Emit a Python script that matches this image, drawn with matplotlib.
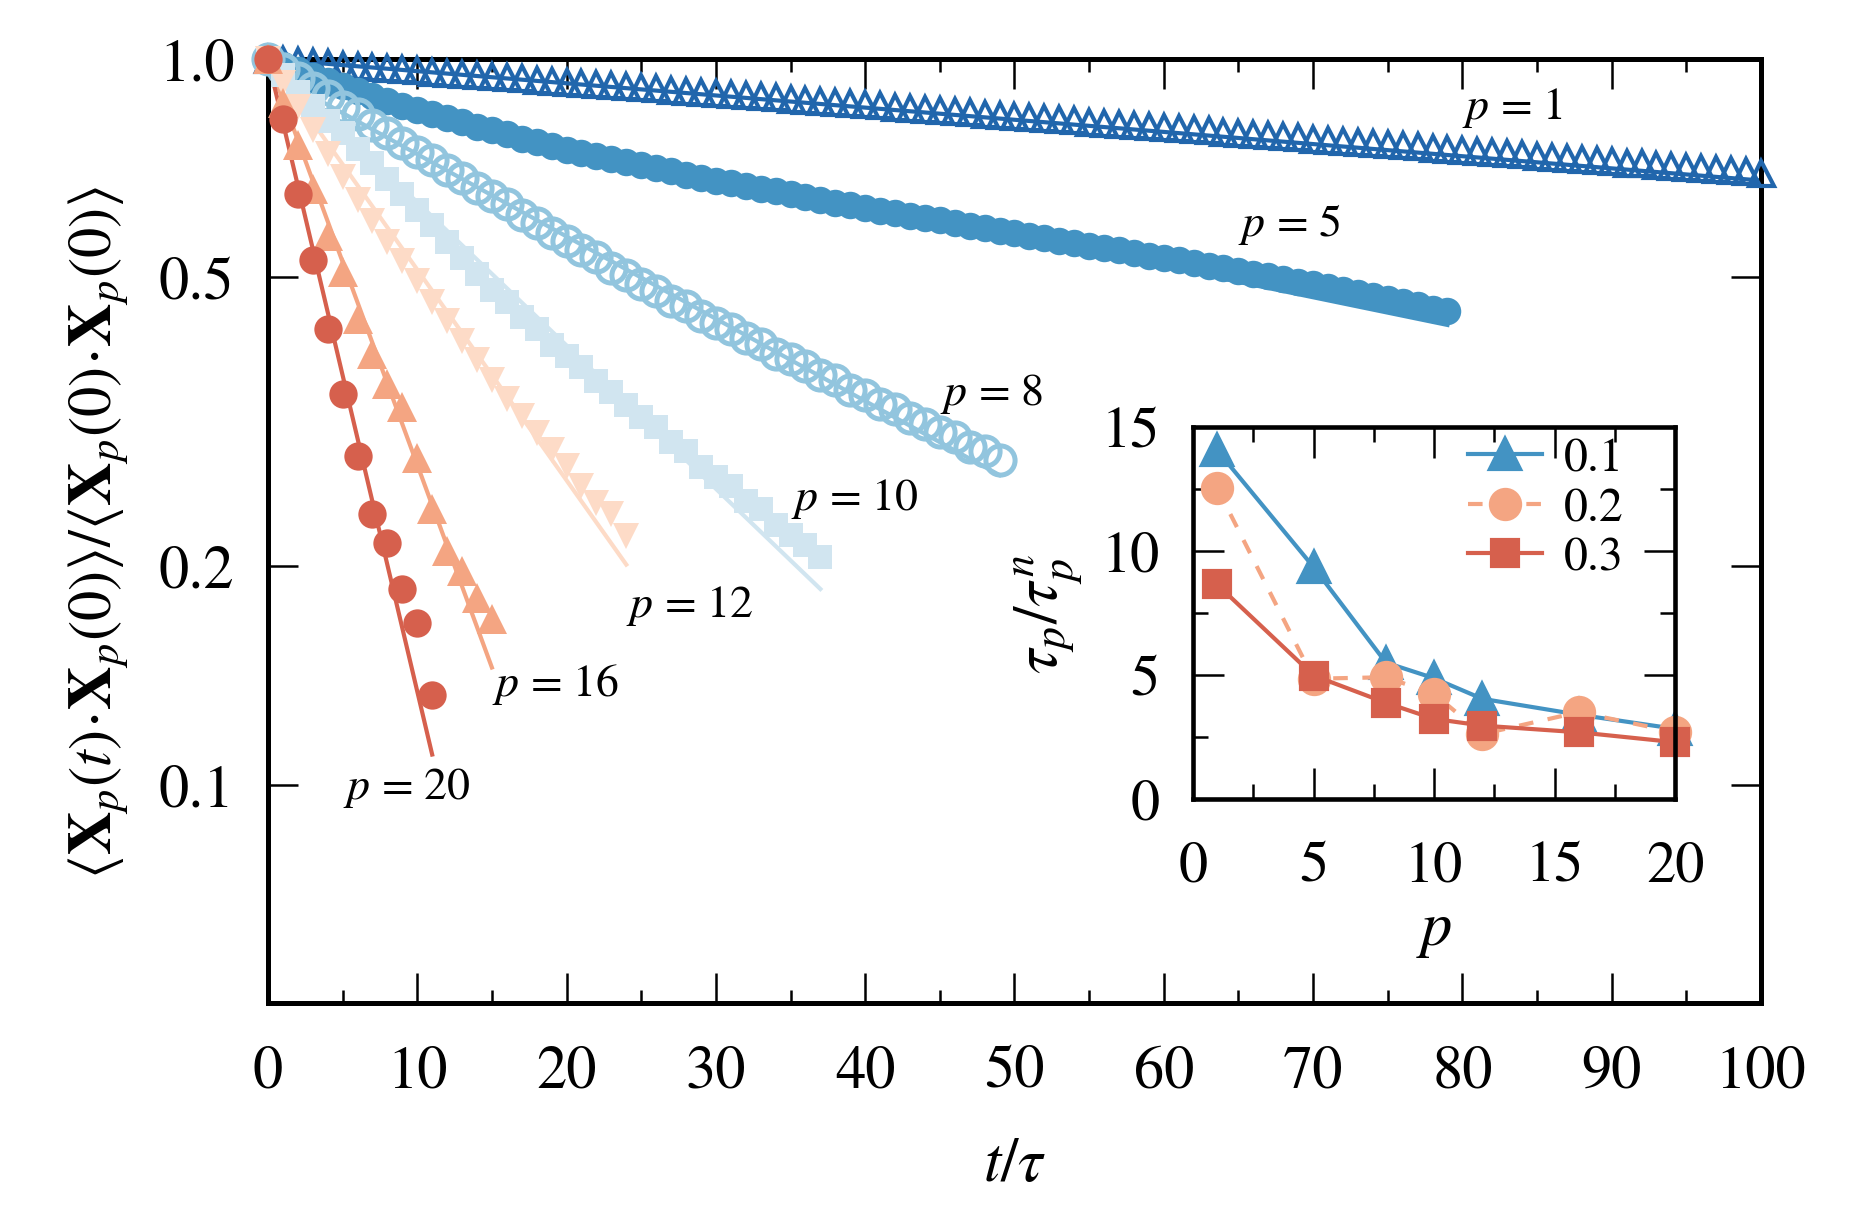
import numpy as np
import matplotlib
matplotlib.use("Agg")
import matplotlib.pyplot as plt

plt.rcParams['font.family'] = ['STIXGeneral', 'DejaVu Serif']
plt.rcParams['mathtext.fontset'] = 'stix'

####################################
# data: main panel (t/tau = 0,1,2,...)
####################################
c_p1 = [1.000, 0.996, 0.993, 0.989, 0.986, 0.982, 0.979, 0.975, 0.972, 0.968,
        0.965, 0.961, 0.958, 0.954, 0.951, 0.947, 0.944, 0.941, 0.937, 0.934,
        0.930, 0.927, 0.924, 0.921, 0.917, 0.914, 0.911, 0.907, 0.904, 0.901,
        0.898, 0.895, 0.891, 0.888, 0.885, 0.882, 0.879, 0.875, 0.872, 0.869,
        0.866, 0.863, 0.860, 0.857, 0.854, 0.851, 0.847, 0.844, 0.841, 0.838,
        0.835, 0.832, 0.829, 0.826, 0.823, 0.820, 0.817, 0.814, 0.812, 0.809,
        0.806, 0.803, 0.800, 0.797, 0.794, 0.791, 0.788, 0.786, 0.783, 0.780,
        0.777, 0.774, 0.771, 0.769, 0.766, 0.763, 0.760, 0.758, 0.755, 0.752,
        0.749, 0.747, 0.744, 0.741, 0.739, 0.736, 0.733, 0.731, 0.728, 0.725,
        0.723, 0.720, 0.718, 0.715, 0.712, 0.710, 0.707, 0.705, 0.702, 0.700,
        0.697]
c_p5 = [1.000, 0.982, 0.965, 0.948, 0.932, 0.917, 0.902, 0.888, 0.875, 0.862,
        0.850, 0.839, 0.828, 0.818, 0.807, 0.797, 0.787, 0.777, 0.768, 0.759,
        0.750, 0.742, 0.735, 0.728, 0.721, 0.714, 0.707, 0.700, 0.693, 0.686,
        0.680, 0.674, 0.668, 0.663, 0.657, 0.651, 0.646, 0.640, 0.634, 0.629,
        0.623, 0.618, 0.613, 0.608, 0.604, 0.599, 0.594, 0.589, 0.584, 0.580,
        0.575, 0.571, 0.566, 0.562, 0.558, 0.553, 0.549, 0.545, 0.541, 0.536,
        0.532, 0.528, 0.523, 0.519, 0.515, 0.510, 0.506, 0.502, 0.497, 0.493,
        0.489, 0.485, 0.480, 0.476, 0.471, 0.467, 0.462, 0.458, 0.453, 0.449]
c_p8 = [1.000, 0.970, 0.942, 0.913, 0.890, 0.860, 0.840, 0.812, 0.791, 0.765,
        0.745, 0.726, 0.703, 0.686, 0.665, 0.648, 0.631, 0.610, 0.595, 0.575,
        0.561, 0.545, 0.533, 0.515, 0.504, 0.489, 0.479, 0.464, 0.456, 0.442,
        0.433, 0.424, 0.412, 0.405, 0.392, 0.386, 0.377, 0.367, 0.361, 0.350,
        0.344, 0.335, 0.329, 0.320, 0.314, 0.306, 0.301, 0.292, 0.288, 0.280]
c_p10 = [1.000, 0.950, 0.900, 0.862, 0.822, 0.790, 0.752, 0.718, 0.684, 0.652,
         0.620, 0.590, 0.560, 0.532, 0.505, 0.480, 0.462, 0.441, 0.425, 0.404,
         0.390, 0.376, 0.360, 0.348, 0.333, 0.321, 0.311, 0.297, 0.288, 0.274,
         0.265, 0.258, 0.246, 0.240, 0.228, 0.221, 0.214, 0.206]
c_p12 = [1.000, 0.928, 0.860, 0.797, 0.740, 0.688, 0.640, 0.598, 0.560, 0.526,
         0.495, 0.463, 0.435, 0.409, 0.385, 0.361, 0.340, 0.322, 0.305, 0.289,
         0.275, 0.258, 0.244, 0.236, 0.220]
c_p16 = [1.000, 0.870, 0.760, 0.662, 0.571, 0.509, 0.438, 0.392, 0.356, 0.331,
         0.282, 0.240, 0.210, 0.197, 0.181, 0.169]
c_p20 = [1.000, 0.827, 0.652, 0.528, 0.425, 0.345, 0.284, 0.236, 0.215, 0.186,
         0.167, 0.133]

# fitted exponentials: (t_start, t_end), (value_start, value_end)
fit_t = {1: (0, 100), 5: (0, 79), 8: (0, 49), 10: (0, 37), 12: (0, 24), 16: (0, 15), 20: (0, 11)}
fit_v = {1: (1.0, 0.68), 5: (0.93, 0.43), 8: (0.96, 0.267), 10: (1.0, 0.186),
         12: (1.0, 0.201), 16: (1.0, 0.145), 20: (1.0, 0.11)}

modes = [1, 5, 8, 10, 12, 16, 20]
series = [c_p1, c_p5, c_p8, c_p10, c_p12, c_p16, c_p20]
colors = ['#2166ac', '#4393c3', '#92c5de', '#d1e5f0', '#fddbc7', '#f4a582', '#d6604d']
label_pos = [(80, 0.86), (65, 0.593), (45, 0.346), (35, 0.248), (24, 0.177), (15, 0.138), (5, 0.0993)]

####################################
# data: inset tau_p / tau_p^n
####################################
p_inset = [1, 5, 8, 10, 12, 16, 20]
ratio_01 = [14.06, 9.35, 5.5, 4.87, 4.04, 3.4, 2.83]
ratio_02 = [12.54, 4.85, 4.91, 4.24, 2.62, 3.5, 2.7]
ratio_03 = [8.65, 4.98, 3.88, 3.23, 2.96, 2.69, 2.29]
inset_labels = ['0.1', '0.2', '0.3']

####################################
# figure
####################################
fig = plt.figure(figsize=(6.25, 4.0233), dpi=300)
ax = fig.add_axes([0.1429, 0.1682, 0.7963, 0.7821])

# marker styles per mode
mstyle = {
    1: dict(marker='^', ms=6.0, mfc='none', mew=1.0),
    5: dict(marker='o', ms=6.6, mew=0),
    8: dict(marker='o', ms=7.0, mfc='none', mew=1.2),
    10: dict(marker='s', ms=5.6, mew=0),
    12: dict(marker='v', ms=6.4, mew=0),
    16: dict(marker='^', ms=7.0, mew=0),
    20: dict(marker='o', ms=6.8, mew=0),
}

for p, c, col in zip(modes, series, colors):
    t = np.arange(len(c))
    ax.plot(fit_t[p], fit_v[p], '-', color=col, lw=1.0, zorder=2)
    ax.plot(t, c, ls='none', color=col, mec=col, clip_on=False, zorder=3, **mstyle[p])

for p, (tx, ty) in zip(modes, label_pos):
    ax.text(tx, ty, r'$p$ = %d' % p, fontsize=11, ha='left', va='center')

ax.set_yscale('log')
ax.set_xlim(0, 100)
ax.set_ylim(0.05, 1.0)
ax.set_yticks([0.1, 0.2, 0.5, 1.0])
ax.set_yticklabels(['0.1', '0.2', '0.5', '1.0'])
ax.yaxis.set_minor_locator(matplotlib.ticker.NullLocator())
ax.set_xticks(np.arange(0, 101, 10))
ax.set_xticks(np.arange(0, 101, 5), minor=True)
ax.tick_params(which='both', direction='in', top=True, right=True, labelsize=14.5, width=0.6)
ax.tick_params(which='major', length=7.2)
ax.tick_params(which='minor', length=3.2)
ax.tick_params(axis='x', pad=10)
ax.tick_params(axis='y', pad=8)
for s in ax.spines.values():
    s.set_linewidth(1.2)

ax.set_xlabel(r'$t/\tau$', fontsize=15, labelpad=9)
ax.set_ylabel(r'$\langle \mathbf{X}_p(t)\!\cdot\!\mathbf{X}_p(0)\rangle/\langle \mathbf{X}_p(0)\!\cdot\!\mathbf{X}_p(0)\rangle$',
              fontsize=14.5, labelpad=7)

# inset
ins = fig.add_axes([0.6363, 0.3372, 0.2571, 0.3082])
ins.plot(p_inset, ratio_01, '-', marker='^', color='#4393c3', lw=1.0, ms=7.0, label=inset_labels[0], clip_on=False)
ins.plot(p_inset, ratio_02, marker='o', color='#f4a582', lw=1.0, ls=(0, (3.5, 3.5)), ms=7.0, label=inset_labels[1], clip_on=False)
ins.plot(p_inset, ratio_03, '-', marker='s', color='#d6604d', lw=1.0, ms=6.4, label=inset_labels[2], clip_on=False)
ins.set_xlim(0, 20)
ins.set_ylim(0, 15)
ins.set_xticks([0, 5, 10, 15, 20])
ins.set_xticks(np.arange(0, 20.1, 2.5), minor=True)
ins.set_yticks([0, 5, 10, 15])
ins.set_yticks(np.arange(0, 15.1, 2.5), minor=True)
ins.tick_params(which='both', direction='in', top=True, right=True, labelsize=14, width=0.6)
ins.tick_params(which='major', length=7.5)
ins.tick_params(which='minor', length=3.5)
ins.tick_params(axis='x', pad=10)
ins.tick_params(axis='y', pad=8)
for s in ins.spines.values():
    s.set_linewidth(1.1)
ins.set_xlabel(r'$p$', fontsize=15, labelpad=2)
ins.set_ylabel(r'$\tau_p/\tau_p^n$', fontsize=15, labelpad=4)
ins.legend(loc='upper left', bbox_to_anchor=(0.49, 1.075), frameon=False, fontsize=11.5,
           handlelength=1.55, labelspacing=0.12, handletextpad=0.45, borderpad=0.3)

fig.savefig('out.png', dpi=300)
